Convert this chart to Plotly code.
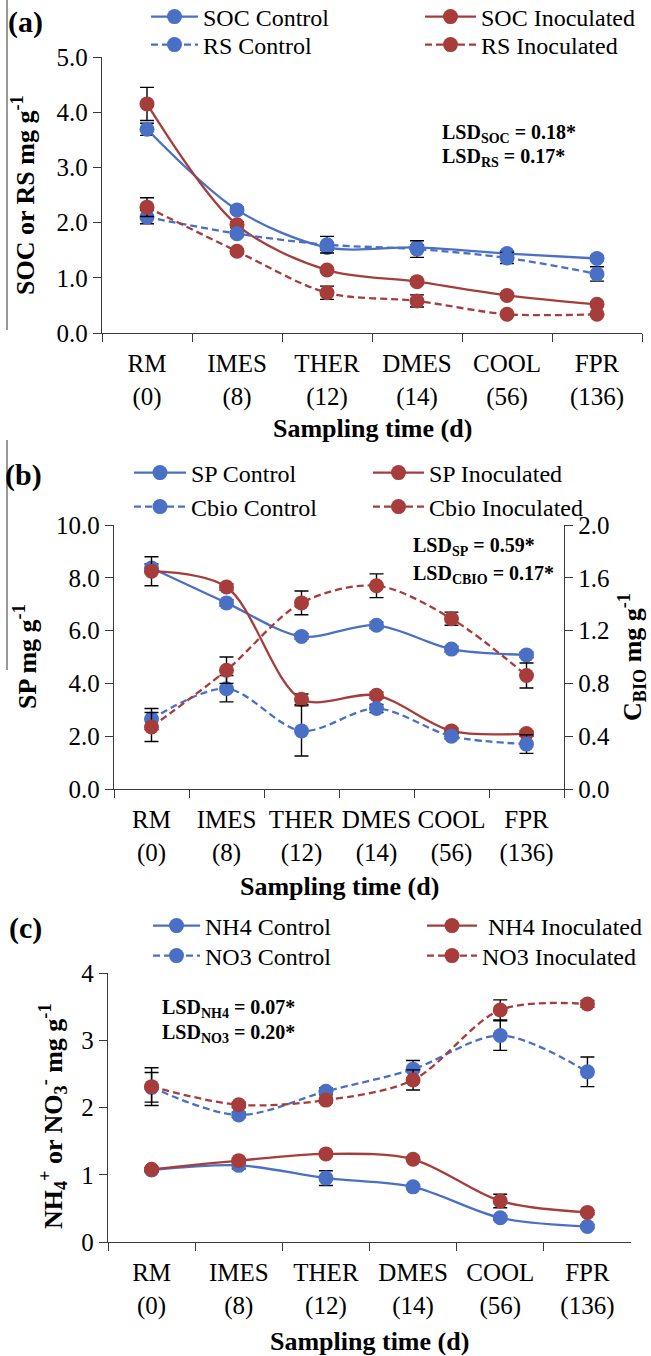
import plotly.graph_objects as go

W, H = 651, 1356

categories = ["RM<br>(0)", "IMES<br>(8)", "THER<br>(12)", "DMES<br>(14)", "COOL<br>(56)", "FPR<br>(136)"]

# Panel (a)
soc_control = [3.69, 2.23, 1.55, 1.55, 1.44, 1.35]
soc_control_err = [0.11, 0.05, 0.05, 0.05, 0.05, 0.04]
soc_inoc = [4.15, 1.96, 1.14, 0.93, 0.68, 0.52]
soc_inoc_err = [0.30, 0.05, 0.04, 0.04, 0.04, 0.04]
rs_control = [2.10, 1.80, 1.60, 1.52, 1.36, 1.07]
rs_control_err = [0.12, 0.05, 0.15, 0.15, 0.10, 0.13]
rs_inoc = [2.28, 1.48, 0.73, 0.58, 0.34, 0.34]
rs_inoc_err = [0.17, 0.04, 0.12, 0.11, 0.03, 0.03]

# Panel (b)
sp_control = [8.37, 7.05, 5.78, 6.20, 5.30, 5.08]
sp_control_err = [0.15, 0.12, 0.10, 0.12, 0.10, 0.10]
sp_inoc = [8.25, 7.65, 3.40, 3.55, 2.20, 2.10]
sp_inoc_err = [0.55, 0.12, 0.20, 0.12, 0.10, 0.10]
cbio_control = [0.53, 0.76, 0.44, 0.61, 0.40, 0.34]
cbio_control_err = [0.08, 0.10, 0.19, 0.03, 0.02, 0.07]
cbio_inoc = [0.47, 0.90, 1.41, 1.54, 1.29, 0.86]
cbio_inoc_err = [0.11, 0.10, 0.09, 0.09, 0.05, 0.095]

# Panel (c)
nh4_control = [1.07, 1.14, 0.95, 0.82, 0.36, 0.23]
nh4_control_err = [0.03, 0.05, 0.11, 0.03, 0.03, 0.03]
nh4_inoc = [1.08, 1.21, 1.31, 1.23, 0.61, 0.44]
nh4_inoc_err = [0.03, 0.03, 0.03, 0.03, 0.10, 0.03]
no3_control = [2.30, 1.89, 2.24, 2.57, 3.07, 2.53]
no3_control_err = [0.22, 0.04, 0.05, 0.13, 0.22, 0.22]
no3_inoc = [2.31, 2.04, 2.11, 2.41, 3.45, 3.54]
no3_inoc_err = [0.28, 0.04, 0.04, 0.15, 0.15, 0.05]

BLUE = "#4a70c6"
RED = "#a63d3b"
FONT = "Liberation Serif"
AXC = "#3a3a3a"


def fx(px):
    return px / W


def fy(py):
    return 1 - py / H


fig = go.Figure()


def add(y, err, name, color, dash, xa, ya, legend):
    fig.add_trace(go.Scatter(
        x=categories, y=y, name=name, mode="lines+markers",
        line=dict(color=color, width=2.3, dash=dash, shape="spline", smoothing=0.9),
        marker=dict(color=color, size=15),
        error_y=dict(type="data", array=err, color="black", thickness=1.4, width=7),
        xaxis=xa, yaxis=ya, legend=legend,
    ))


DASH = "7px,4px"
add(soc_control, soc_control_err, "SOC Control", BLUE, "solid", "x", "y", "legend")
add(soc_inoc, soc_inoc_err, "SOC Inoculated", RED, "solid", "x", "y", "legend2")
add(rs_control, rs_control_err, "RS Control", BLUE, DASH, "x", "y", "legend3")
add(rs_inoc, rs_inoc_err, "RS Inoculated", RED, DASH, "x", "y", "legend4")

add(sp_control, sp_control_err, "SP Control", BLUE, "solid", "x2", "y2", "legend5")
add(sp_inoc, sp_inoc_err, "SP Inoculated", RED, "solid", "x2", "y2", "legend6")
add(cbio_control, cbio_control_err, "Cbio Control", BLUE, DASH, "x2", "y3", "legend7")
add(cbio_inoc, cbio_inoc_err, "Cbio Inoculated", RED, DASH, "x2", "y3", "legend8")

add(nh4_control, nh4_control_err, "NH4 Control", BLUE, "solid", "x4", "y4", "legend9")
add(nh4_inoc, nh4_inoc_err, " NH4 Inoculated", RED, "solid", "x4", "y4", "legend10")
add(no3_control, no3_control_err, "NO3 Control", BLUE, DASH, "x4", "y4", "legend11")
add(no3_inoc, no3_inoc_err, "NO3 Inoculated", RED, DASH, "x4", "y4", "legend12")

tickfont = dict(family=FONT, size=25, color="black")

xcommon = dict(type="category", tickson="boundaries", ticks="outside", ticklen=8,
               tickcolor=AXC, tickwidth=1.3, showline=True, linecolor=AXC, linewidth=1.3,
               showgrid=False, zeroline=False, tickfont=tickfont, range=[-0.5, 5.5],
               fixedrange=True, ticklabelstandoff=8, tickangle=0)
ycommon = dict(ticks="outside", ticklen=8, tickcolor=AXC, tickwidth=1.3, showline=True,
               linecolor=AXC, linewidth=1.3, showgrid=False, zeroline=False,
               tickfont=tickfont, fixedrange=True)

# pixel geometry of each panel
A = dict(x0=102, x1=642, y0=333, y1=57)
B = dict(x0=114, x1=564, y0=789, y1=525)
C = dict(x0=108, x1=631, y0=1242, y1=973)

fig.update_layout(
    width=W, height=H, margin=dict(l=0, r=0, t=0, b=0, autoexpand=False),
    paper_bgcolor="white", plot_bgcolor="white", showlegend=True,
    font=dict(family=FONT, color="black"),
    xaxis=dict(xcommon, domain=[fx(A["x0"]), fx(A["x1"])], anchor="y"),
    yaxis=dict(ycommon, domain=[fy(A["y0"]), fy(A["y1"])], range=[0, 5], dtick=1,
               tickformat=".1f", anchor="x"),
    xaxis2=dict(xcommon, domain=[fx(B["x0"]), fx(B["x1"])], anchor="y2"),
    yaxis2=dict(ycommon, domain=[fy(B["y0"]), fy(B["y1"])], range=[0, 10], dtick=2,
                tickformat=".1f", anchor="x2"),
    yaxis3=dict(ycommon, domain=[fy(B["y0"]), fy(B["y1"])], range=[0, 2], dtick=0.4,
                tickformat=".1f", anchor="x2", overlaying="y2", side="right"),
    xaxis4=dict(xcommon, domain=[fx(C["x0"]), fx(C["x1"])], anchor="y4"),
    yaxis4=dict(ycommon, domain=[fy(C["y0"]), fy(C["y1"])], range=[0, 4], dtick=1,
                tickformat="d", anchor="x4"),
)

# legends: one per entry, placed like the 2x2 grids of the original
legfont = dict(family=FONT, size=24, color="black")
# (marker centre x, row centre y, gap from marker centre to text start)
leg_pos = {
    "legend": (166, 17, 37), "legend2": (440, 17, 41),
    "legend3": (166, 45, 37), "legend4": (440, 45, 41),
    "legend5": (149, 473, 42), "legend6": (388, 473, 41),
    "legend7": (149, 507, 42), "legend8": (388, 507, 41),
    "legend9": (168, 926, 37), "legend10": (442, 926, 40),
    "legend11": (168, 956, 37), "legend12": (442, 956, 40),
}
for key, (mx, my, gap) in leg_pos.items():
    fig.update_layout({key: dict(x=fx(mx - 20), y=fy(my), xanchor="left", yanchor="middle",
                                 font=legfont, bgcolor="rgba(0,0,0,0)", itemwidth=gap + 10,
                                 borderwidth=0, tracegroupgap=0)})

ann = []


def text(x, y, s, size, bold=True, angle=0, xanchor="center"):
    ann.append(dict(x=fx(x), y=fy(y), xref="paper", yref="paper",
                    text=("<b>%s</b>" % s) if bold else s,
                    showarrow=False, font=dict(family=FONT, size=size, color="black"),
                    textangle=angle, xanchor=xanchor, yanchor="middle"))


text(25, 22, "(a)", 30)
text(23, 475, "(b)", 30)
text(25, 928, "(c)", 30)

text(23, 195, "SOC or RS mg g<sup>-1</sup>", 26, angle=-90)
text(25, 657, "SP mg g<sup>-1</sup>", 26, angle=-90)
text(632, 657, "C<sub>BIO</sub> mg g<sup>-1</sup>", 26, angle=-90)
text(53, 1116, "NH<sub>4</sub><sup>+</sup> or NO<sub>3</sub><sup>-</sup> mg g<sup>-1</sup>", 26, angle=-90)

text((A["x0"] + A["x1"]) / 2, 428, "Sampling time (d)", 26)
text((B["x0"] + B["x1"]) / 2, 886, "Sampling time (d)", 26)
text((C["x0"] + C["x1"]) / 2, 1341, "Sampling time (d)", 26)

text(440, 133, "LSD<sub>SOC</sub> = 0.18*", 20, xanchor="left")
text(440, 157, "LSD<sub>RS</sub> = 0.17*", 20, xanchor="left")
text(411, 547, "LSD<sub>SP</sub> = 0.59*", 20, xanchor="left")
text(411, 574, "LSD<sub>CBIO</sub> = 0.17*", 20, xanchor="left")
text(160, 1008, "LSD<sub>NH4</sub> = 0.07*", 20, xanchor="left")
text(160, 1033, "LSD<sub>NO3</sub> = 0.20*", 20, xanchor="left")

fig.update_layout(annotations=ann)

# thin frame remnants on the left edge of the original image
fig.add_shape(type="line", xref="paper", yref="paper", x0=fx(7), x1=fx(7), y0=fy(0), y1=fy(330),
              line=dict(color="#555555", width=1.2))
fig.add_shape(type="line", xref="paper", yref="paper", x0=fx(7), x1=fx(7), y0=fy(440), y1=fy(670),
              line=dict(color="#555555", width=1.2))

fig.write_html("out.html", config={"displayModeBar": False},
               post_script="document.body.style.margin='0';")
